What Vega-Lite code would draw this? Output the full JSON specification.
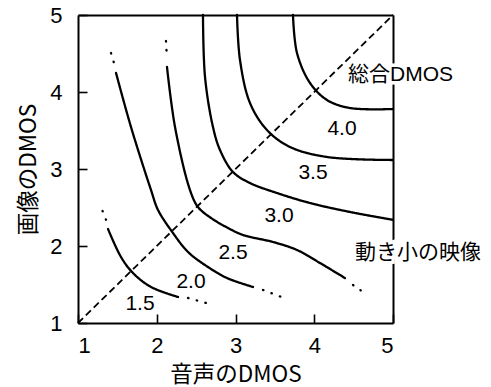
{
  "$schema": "https://vega.github.io/schema/vega-lite/v6.json",
  "width": 315,
  "height": 308,
  "autosize": "none",
  "padding": {"left": 78, "top": 15, "right": 98, "bottom": 64},
  "background": "white",
  "config": {
    "view": {"stroke": null},
    "font": "Liberation Sans, Noto Sans CJK JP",
    "axis": {"grid": false, "domainColor": "black", "domainWidth": 2, "tickColor": "black", "tickWidth": 1.6, "labelColor": "black", "titleColor": "black", "labelFont": "Liberation Sans", "titleFont": "Noto Sans CJK JP", "titleFontWeight": "normal"}
  },
  "datasets": {
    "contours": [
      {"seg": "15a", "part": "dot", "i": 0, "x": 1.311, "y": 2.455},
      {"seg": "15a", "part": "dot", "i": 1, "x": 1.362, "y": 2.325},
      {"seg": "15b", "part": "solid", "i": 0, "x": 1.381, "y": 2.221},
      {"seg": "15b", "part": "solid", "i": 1, "x": 1.546, "y": 1.857},
      {"seg": "15b", "part": "solid", "i": 2, "x": 1.698, "y": 1.649},
      {"seg": "15b", "part": "solid", "i": 3, "x": 1.927, "y": 1.468},
      {"seg": "15b", "part": "solid", "i": 4, "x": 2.27, "y": 1.338},
      {"seg": "15c", "part": "dot", "i": 0, "x": 2.397, "y": 1.325},
      {"seg": "15c", "part": "dot", "i": 1, "x": 2.651, "y": 1.253},
      {"seg": "20a", "part": "dot", "i": 0, "x": 1.419, "y": 4.506},
      {"seg": "20a", "part": "dot", "i": 1, "x": 1.463, "y": 4.357},
      {"seg": "20b", "part": "solid", "i": 0, "x": 1.483, "y": 4.247},
      {"seg": "20b", "part": "solid", "i": 1, "x": 1.673, "y": 3.545},
      {"seg": "20b", "part": "solid", "i": 2, "x": 1.927, "y": 2.727},
      {"seg": "20b", "part": "solid", "i": 3, "x": 2.016, "y": 2.468},
      {"seg": "20b", "part": "solid", "i": 4, "x": 2.206, "y": 2.169},
      {"seg": "20b", "part": "solid", "i": 5, "x": 2.397, "y": 1.922},
      {"seg": "20b", "part": "solid", "i": 6, "x": 2.651, "y": 1.727},
      {"seg": "20b", "part": "solid", "i": 7, "x": 2.892, "y": 1.584},
      {"seg": "20b", "part": "solid", "i": 8, "x": 3.222, "y": 1.468},
      {"seg": "20c", "part": "dot", "i": 0, "x": 3.349, "y": 1.429},
      {"seg": "20c", "part": "dot", "i": 1, "x": 3.603, "y": 1.331},
      {"seg": "25a", "part": "dot", "i": 0, "x": 2.117, "y": 4.662},
      {"seg": "25a", "part": "dot", "i": 1, "x": 2.13, "y": 4.429},
      {"seg": "25b", "part": "solid", "i": 0, "x": 2.13, "y": 4.325},
      {"seg": "25b", "part": "solid", "i": 1, "x": 2.232, "y": 3.545},
      {"seg": "25b", "part": "solid", "i": 2, "x": 2.422, "y": 2.727},
      {"seg": "25b", "part": "solid", "i": 3, "x": 2.524, "y": 2.506},
      {"seg": "25b", "part": "solid", "i": 4, "x": 2.689, "y": 2.364},
      {"seg": "25b", "part": "solid", "i": 5, "x": 2.905, "y": 2.234},
      {"seg": "25b", "part": "solid", "i": 6, "x": 3.095, "y": 2.143},
      {"seg": "25b", "part": "solid", "i": 7, "x": 3.476, "y": 2.052},
      {"seg": "25b", "part": "solid", "i": 8, "x": 3.781, "y": 1.948},
      {"seg": "25b", "part": "solid", "i": 9, "x": 4.073, "y": 1.779},
      {"seg": "25b", "part": "solid", "i": 10, "x": 4.39, "y": 1.584},
      {"seg": "25c", "part": "dot", "i": 0, "x": 4.492, "y": 1.494},
      {"seg": "25c", "part": "dot", "i": 1, "x": 4.619, "y": 1.403},
      {"seg": "30", "part": "solid", "i": 0, "x": 2.587, "y": 5.0},
      {"seg": "30", "part": "solid", "i": 1, "x": 2.613, "y": 4.195},
      {"seg": "30", "part": "solid", "i": 2, "x": 2.714, "y": 3.545},
      {"seg": "30", "part": "solid", "i": 3, "x": 2.803, "y": 3.247},
      {"seg": "30", "part": "solid", "i": 4, "x": 2.968, "y": 2.961},
      {"seg": "30", "part": "solid", "i": 5, "x": 3.184, "y": 2.818},
      {"seg": "30", "part": "solid", "i": 6, "x": 3.527, "y": 2.688},
      {"seg": "30", "part": "solid", "i": 7, "x": 3.946, "y": 2.558},
      {"seg": "30", "part": "solid", "i": 8, "x": 4.454, "y": 2.442},
      {"seg": "30", "part": "solid", "i": 9, "x": 5.0, "y": 2.34},
      {"seg": "35", "part": "solid", "i": 0, "x": 3.019, "y": 5.0},
      {"seg": "35", "part": "solid", "i": 1, "x": 3.057, "y": 4.416},
      {"seg": "35", "part": "solid", "i": 2, "x": 3.184, "y": 3.857},
      {"seg": "35", "part": "solid", "i": 3, "x": 3.4, "y": 3.506},
      {"seg": "35", "part": "solid", "i": 4, "x": 3.692, "y": 3.286},
      {"seg": "35", "part": "solid", "i": 5, "x": 4.162, "y": 3.156},
      {"seg": "35", "part": "solid", "i": 6, "x": 5.0, "y": 3.117},
      {"seg": "40", "part": "solid", "i": 0, "x": 3.73, "y": 5.0},
      {"seg": "40", "part": "solid", "i": 1, "x": 3.781, "y": 4.506},
      {"seg": "40", "part": "solid", "i": 2, "x": 3.946, "y": 4.117},
      {"seg": "40", "part": "solid", "i": 3, "x": 4.162, "y": 3.896},
      {"seg": "40", "part": "solid", "i": 4, "x": 4.454, "y": 3.792},
      {"seg": "40", "part": "solid", "i": 5, "x": 5.0, "y": 3.779}
    ],
    "diag": [
      {"x": 1, "y": 1},
      {"x": 5, "y": 5}
    ],
    "labels": [
      {"text": "1.5", "x": 1.787, "y": 1.247},
      {"text": "2.0", "x": 2.435, "y": 1.532},
      {"text": "2.5", "x": 2.968, "y": 1.909},
      {"text": "3.0", "x": 3.552, "y": 2.39},
      {"text": "3.5", "x": 3.984, "y": 2.948},
      {"text": "4.0", "x": 4.352, "y": 3.519}
    ],
    "notes": [
      {"text": "総合DMOS", "x": 4.429, "y": 4.221},
      {"text": "動き小の映像", "x": 4.517, "y": 1.909}
    ]
  },
  "resolve": {"axis": {"x": "independent", "y": "independent"}},
  "layer": [
    {
      "data": {"name": "contours"},
      "mark": {"type": "line", "color": "black", "strokeWidth": 2.3, "interpolate": "catmull-rom", "strokeCap": "round"},
      "encoding": {
        "x": {"field": "x", "type": "quantitative", "scale": {"domain": [1, 5], "nice": false, "zero": false},
          "axis": {"orient": "bottom", "values": [1, 2, 3, 4, 5], "format": "d", "tickSize": -9, "labelPadding": 21, "labelFontSize": 22, "title": "音声のDMOS", "titleFontSize": 22.5, "titlePadding": 7}},
        "y": {"field": "y", "type": "quantitative", "scale": {"domain": [1, 5], "nice": false, "zero": false},
          "axis": {"orient": "left", "values": [1, 2, 3, 4, 5], "format": "d", "tickSize": -9, "labelPadding": 25, "labelFontSize": 22, "title": "画像のDMOS", "titleFontSize": 22.5, "titlePadding": 9}},
        "detail": {"field": "seg", "type": "nominal"},
        "order": {"field": "i", "type": "quantitative"},
        "strokeDash": {"field": "part", "type": "nominal", "scale": {"domain": ["solid", "dot"], "range": [[1, 0], [0.5, 8.5]]}, "legend": null}
      }
    },
    {
      "data": {"name": "diag"},
      "mark": {"type": "line", "color": "black", "strokeWidth": 1.8, "strokeDash": [7, 4]},
      "encoding": {
        "x": {"field": "x", "type": "quantitative", "axis": {"orient": "top", "labels": false, "ticks": false, "title": null, "domain": true}},
        "y": {"field": "y", "type": "quantitative", "axis": {"orient": "right", "labels": false, "ticks": false, "title": null, "domain": true}}
      }
    },
    {
      "data": {"name": "labels"},
      "mark": {"type": "text", "font": "Liberation Sans", "fontSize": 21, "color": "black", "align": "center", "baseline": "middle"},
      "encoding": {
        "x": {"field": "x", "type": "quantitative", "axis": null},
        "y": {"field": "y", "type": "quantitative", "axis": null},
        "text": {"field": "text", "type": "nominal"}
      }
    },
    {
      "data": {"name": "notes"},
      "mark": {"type": "text", "font": "Liberation Sans, Noto Sans CJK JP", "fontSize": 21, "color": "black", "stroke": "white", "strokeWidth": 7, "align": "left", "baseline": "middle"},
      "encoding": {
        "x": {"field": "x", "type": "quantitative", "axis": null},
        "y": {"field": "y", "type": "quantitative", "axis": null},
        "text": {"field": "text", "type": "nominal"}
      }
    },
    {
      "data": {"name": "notes"},
      "mark": {"type": "text", "font": "Liberation Sans, Noto Sans CJK JP", "fontSize": 21, "color": "black", "align": "left", "baseline": "middle"},
      "encoding": {
        "x": {"field": "x", "type": "quantitative", "axis": null},
        "y": {"field": "y", "type": "quantitative", "axis": null},
        "text": {"field": "text", "type": "nominal"}
      }
    }
  ]
}
